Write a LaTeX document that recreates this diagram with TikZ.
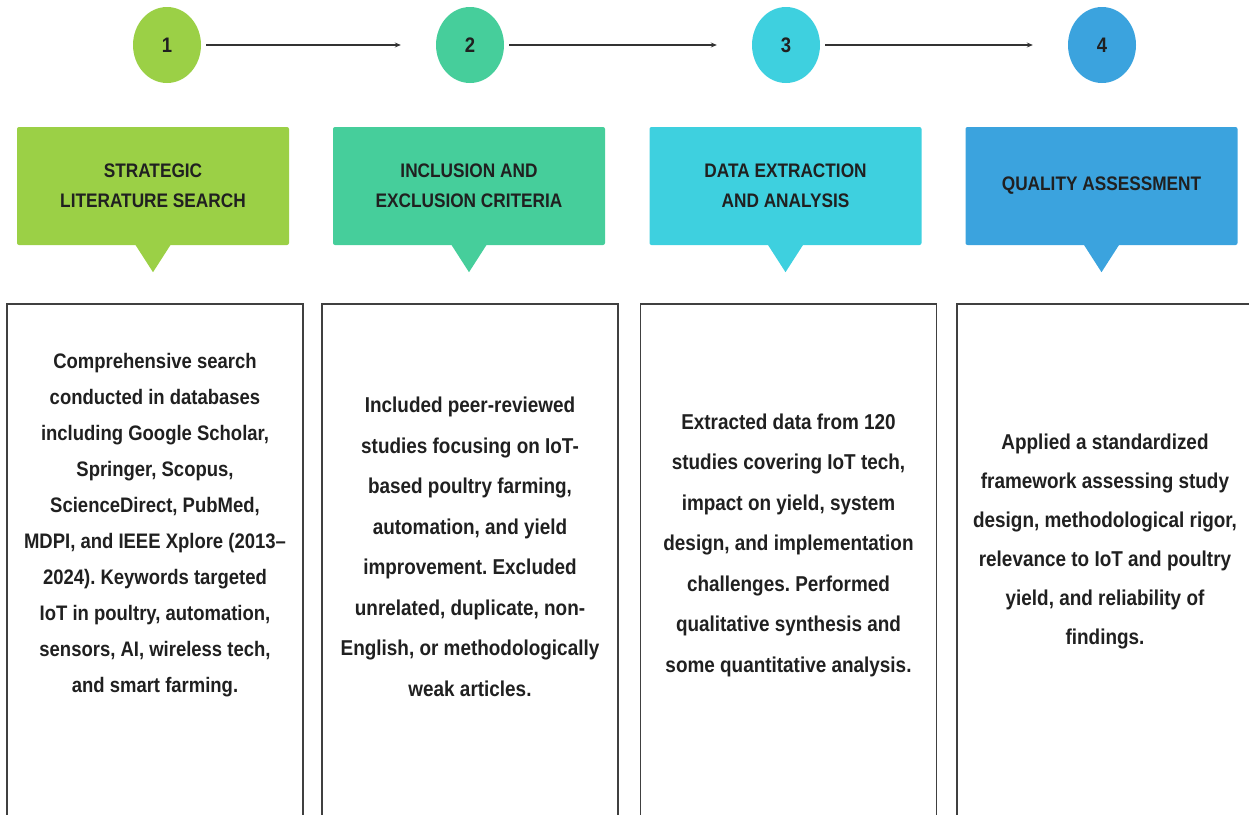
\documentclass[tikz,border=0pt]{standalone}
\usepackage{fontspec}
\setmainfont{Liberation Sans}[FakeStretch=0.88]
\usetikzlibrary{arrows.meta,shapes.geometric}

\definecolor{stepgreen}{RGB}{155,208,70}
\definecolor{stepteal}{RGB}{70,206,155}
\definecolor{stepcyan}{RGB}{62,208,223}
\definecolor{stepblue}{RGB}{59,163,222}
\definecolor{inkgray}{RGB}{32,32,32}

\tikzset{
  stepnum/.style={ellipse, minimum width=68pt, minimum height=76pt, inner sep=0pt,
    font=\fontsize{21}{24}\selectfont\bfseries, text=inkgray},
  headbox/.style={rectangle, rounded corners=2pt, minimum width=272pt, minimum height=118pt,
    align=center, font=\fontsize{19.6}{30}\selectfont\bfseries, text=inkgray},
  bodybox/.style={draw=black!75, line width=1.4pt, minimum width=296pt, minimum height=526pt,
    inner sep=0pt},
  bodytext/.style={align=center, font=\fontsize{21.5}{40.5}\selectfont\bfseries, text=inkgray},
  flowarrow/.style={-{Stealth[length=6pt,width=5pt]}, line width=1.8pt, black!80},
}

\begin{document}
\frenchspacing
\begin{tikzpicture}[x=1pt,y=-1pt]
        % 1. Canvas (pixel grid of the reference)
        \useasboundingbox (0,0) rectangle (1249,814);
        \clip (0,0) rectangle (1249,814);

        % 2. Step numbers and the arrows between them
        \foreach \i/\x/\col in {1/167/stepgreen,2/470/stepteal,3/786/stepcyan,4/1102/stepblue}
            \node[stepnum, fill=\col] (num\i) at (\x,45) {\i};
        \foreach \a/\b in {1/2,2/3,3/4}
            \draw[flowarrow, shorten <=5pt, shorten >=35pt] (num\a) -- (num\b);

        % 3. Coloured headers with their pointers
        \foreach \i/\x/\col/\txt in {1/153/stepgreen/{STRATEGIC\\LITERATURE SEARCH},
                                     2/469/stepteal/{INCLUSION AND\\EXCLUSION CRITERIA},
                                     3/785.5/stepcyan/{DATA EXTRACTION\\AND ANALYSIS},
                                     4/1101.5/stepblue/{QUALITY ASSESSMENT}}
        {
            \node[headbox, fill=\col] (head\i) at (\x,186) {\txt};
            \fill[\col] ([xshift=-18pt,yshift=1pt]head\i.south) -- ([xshift=18pt,yshift=1pt]head\i.south)
                -- ([yshift=-27pt]head\i.south) -- cycle;
        }

        % 4. Description boxes (they run past the bottom edge)
        \foreach \i/\x in {1/155,2/470,3/788.5,4/1105}
            \node[bodybox] (body\i) at (\x,567) {};

        % 5. Description texts
        \node[bodytext, font=\fontsize{21}{36}\selectfont\bfseries] (text1) at ([yshift=42pt]body1.center)
            {Comprehensive search\\conducted in databases\\including Google Scholar,\\Springer, Scopus,\\
             ScienceDirect, PubMed,\\MDPI, and IEEE Xplore (2013--\\2024). Keywords targeted\\
             IoT in poultry, automation,\\sensors, AI, wireless tech,\\and smart farming.};
        \node[bodytext] (text2) at ([yshift=20pt]body2.center)
            {Included peer-reviewed\\studies focusing on IoT-\\based poultry farming,\\automation, and yield\\
             improvement. Excluded\\unrelated, duplicate, non-\\English, or methodologically\\weak articles.};
        \node[bodytext] (text3) at ([yshift=22pt]body3.center)
            {Extracted data from 120\\studies covering IoT tech,\\impact on yield, system\\
             design, and implementation\\challenges. Performed\\qualitative synthesis and\\
             some quantitative analysis.};
        \node[bodytext, font=\fontsize{21.5}{39}\selectfont\bfseries] (text4) at ([yshift=26pt]body4.center)
            {Applied a standardized\\framework assessing study\\design, methodological rigor,\\
             relevance to IoT and poultry\\yield, and reliability of\\findings.};

    \end{tikzpicture}
\end{document}
